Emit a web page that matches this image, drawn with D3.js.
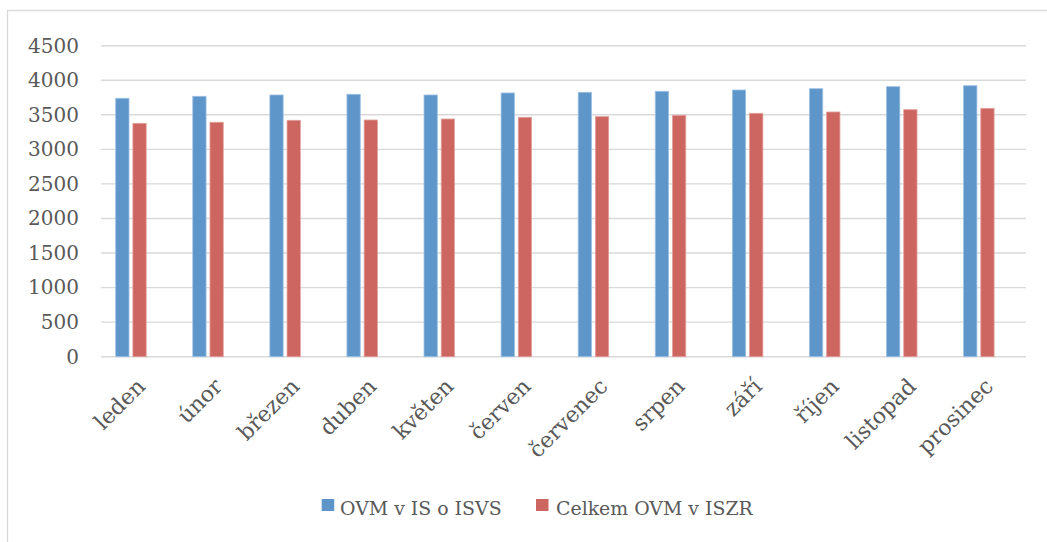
<!DOCTYPE html>
<html><head><meta charset="utf-8">
<script src="https://cdn.jsdelivr.net/npm/d3@7"></script>
<style>html,body{margin:0;padding:0;background:#fff;overflow:hidden}</style>
</head><body><svg id="c" width="1047" height="542"></svg>
<script>
const categories = ["leden","únor","březen","duben","květen","červen","červenec","srpen","září","říjen","listopad","prosinec"];
const seriesNames = ["OVM v IS o ISVS","Celkem OVM v ISZR"];
const ovmIsvs = [3739,3768,3787,3797,3787,3816,3826,3840,3859,3878,3907,3921];
const ovmIszr = [3377,3392,3421,3425,3439,3464,3473,3493,3522,3541,3574,3594];
const yTicks = [0,500,1000,1500,2000,2500,3000,3500,4000,4500];
const colors = ["#5f96ca","#cd6560"];
const strokes = ["#9cc0e3","#e3a09c"];

const svg = d3.select("#c");
const font = "'DejaVu Serif', serif";
const txt = "#595959";

svg.append("rect").attr("x",7.5).attr("y",10.5).attr("width",1045).attr("height",540)
  .attr("fill","none").attr("stroke","#d9d9d9").attr("stroke-width",1.3);

const L=101, R=1026, T=45.7, B=356.7;
const x = d3.scaleBand().domain(categories).range([L,R]).padding(0);
const y = d3.scaleLinear().domain([0,4500]).range([B,T]);

svg.append("g").selectAll("line").data(yTicks).join("line")
  .attr("x1",L).attr("x2",R).attr("y1",d=>y(d)).attr("y2",d=>y(d))
  .attr("stroke","#d9d9d9").attr("stroke-width",1.4);

const yAxis = d3.axisLeft(y).tickValues(yTicks).tickFormat(d3.format("d")).tickSize(0).tickPadding(0);
const ya = svg.append("g").attr("transform","translate(79,0)").call(yAxis);
ya.select(".domain").remove();
ya.selectAll("text").attr("font-family",font).attr("font-size",20).attr("fill",txt);

const bw = 13.3, off = 17.2;
[ovmIsvs, ovmIszr].forEach((vals,si)=>{
  svg.append("g").selectAll("rect").data(vals).join("rect")
    .attr("x",(d,i)=>x(categories[i])+x.bandwidth()/2 - off*(1-si) - bw/2)
    .attr("y",d=>y(d)).attr("width",bw).attr("height",d=>B-y(d))
    .attr("fill",colors[si]).attr("stroke",strokes[si]).attr("stroke-width",0.8);
});

const xAxis = d3.axisBottom(x).tickSize(0).tickPadding(0);
const xa = svg.append("g").attr("transform",`translate(0,${B})`).call(xAxis);
xa.select(".domain").remove();
xa.selectAll(".tick text")
  .attr("font-family",font).attr("font-size",22).attr("fill",txt)
  .attr("text-anchor","end").attr("dy",0).attr("y",0)
  .attr("transform","translate(7,31) rotate(-45)");

const leg = [{x:321.7,tx:340},{x:536,tx:556}];
leg.forEach((l,i)=>{
  svg.append("rect").attr("x",l.x).attr("y",499).attr("width",12.5).attr("height",12)
    .attr("fill",colors[i]);
  svg.append("text").attr("x",l.tx).attr("y",514.5).text(seriesNames[i])
    .attr("font-family",font).attr("font-size",18.9).attr("fill",txt);
});
</script></body></html>
